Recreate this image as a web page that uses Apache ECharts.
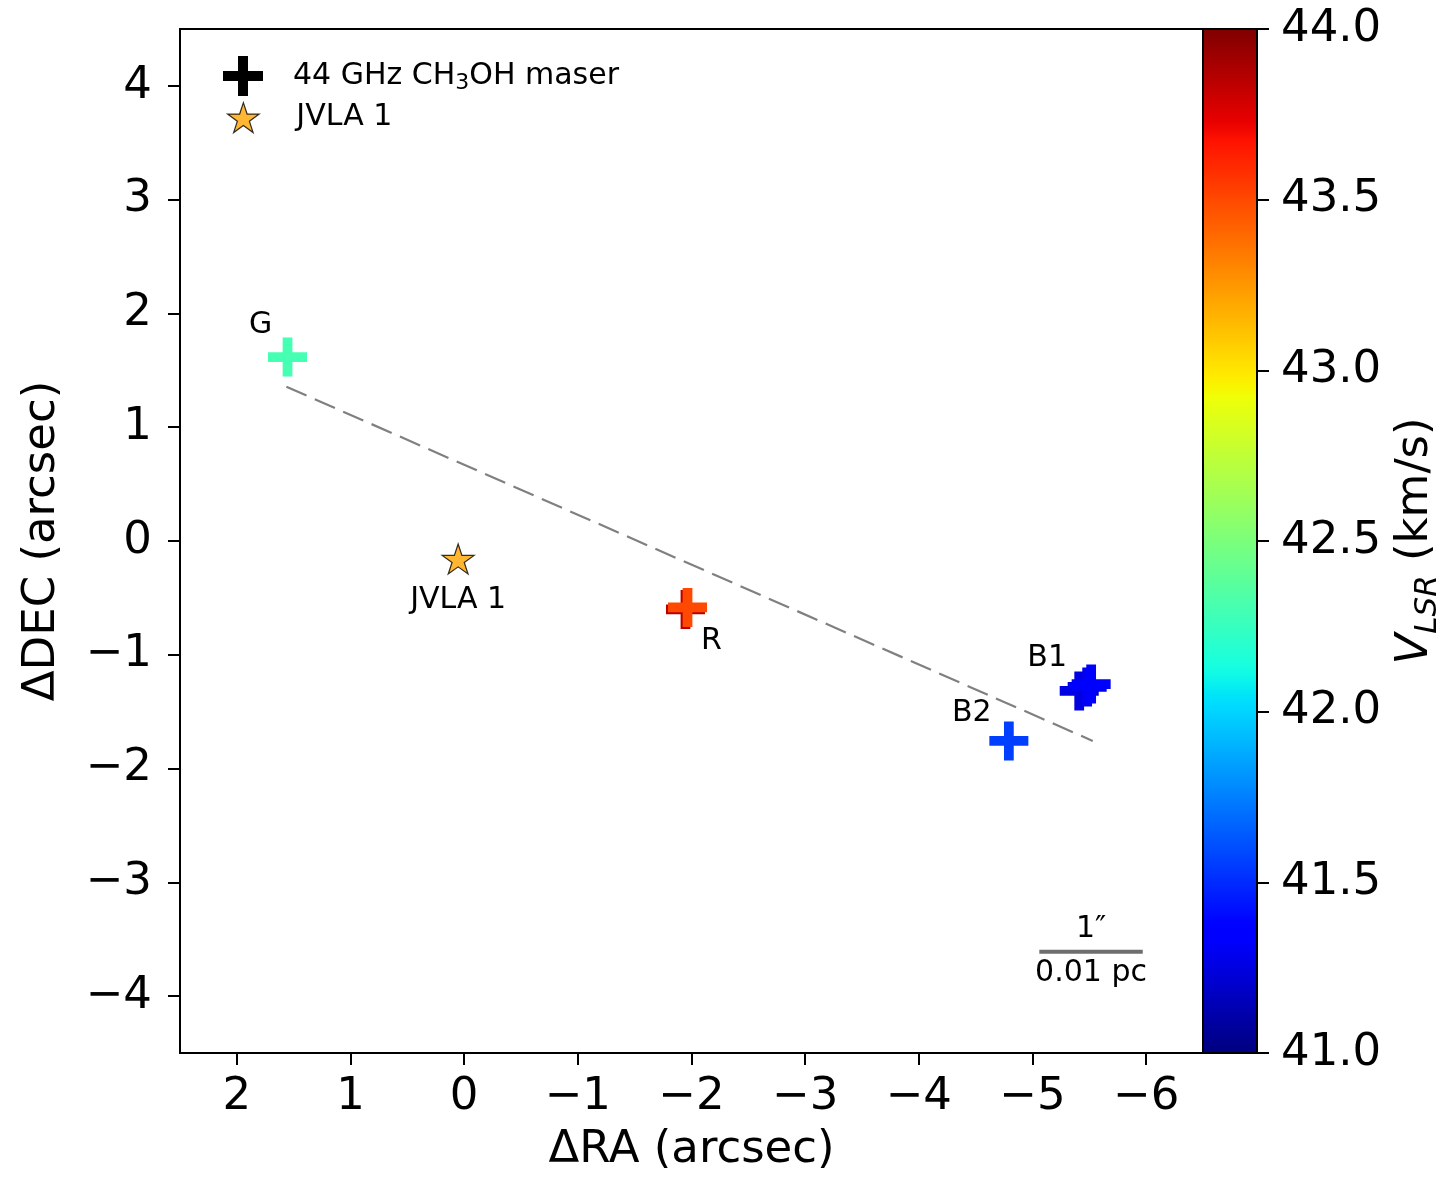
<!DOCTYPE html>
<html><head><meta charset="utf-8">
<script src="https://cdn.jsdelivr.net/npm/echarts@6/dist/echarts.min.js"></script>
<style>html,body{margin:0;padding:0;background:#fff}#c{width:1450px;height:1184px}</style>
</head><body><div id="c"></div>
<script>
// ---------- data ----------
const maserRA    = [-1.947, -1.965, 1.554, -4.792, -5.411, -5.481, -5.516];
const maserDEC   = [-0.602, -0.584, 1.617, -1.757, -1.318, -1.283, -1.257];
const maserVlsr  = [43.85, 43.50, 42.30, 41.56, 41.25, 41.30, 41.35];
const maserLabel = ['', 'R', 'G', 'B2', '', 'B1', ''];
const jvlaRA  = [0.053];
const jvlaDEC = [-0.158];
const jvlaLabel = ['JVLA 1'];
const fitLineRA  = [1.564, -5.53];
const fitLineDEC = [1.356, -1.757];
const scaleBarRA  = [-5.06, -5.97];
const scaleBarDEC = [-3.61, -3.61];
const scaleBarText = ['1\u2033', '0.01 pc'];
const xTicks  = [2, 1, 0, -1, -2, -3, -4, -5, -6];
const yTicks  = [-4, -3, -2, -1, 0, 1, 2, 3, 4];
const cbTicks = [41.0, 41.5, 42.0, 42.5, 43.0, 43.5, 44.0];

// ---------- styles ----------
const FONT = 'DejaVu Sans';
const labelOffsets = { G: [-27, -32], R: [24, 34], B1: [-40, -29], B2: [-37, -28], 'JVLA 1': [0, 41] };
const plusPath = 'path://M15,0H25V15H40V25H25V40H15V25H0V15H15Z';
const starPath = 'path://M0,-1L0.2245,-0.309L0.951,-0.309L0.363,0.118L0.588,0.809L0,0.382L-0.588,0.809L-0.363,0.118L-0.951,-0.309L-0.2245,-0.309Z';
const maserSeriesName = '44 GHz CH3OH maser';
const txt = (extra) => Object.assign({ show: true, fontSize: 30, color: '#000000', opacity: 1, fontWeight: 'normal',
  fontFamily: FONT, textBorderWidth: 0, textBorderColor: 'transparent', textShadowBlur: 0 }, extra);

function jet(t) {
  const seg = pts => {
    for (let i = 0; i < pts.length - 1; i++) {
      const [x0, y0] = pts[i], [x1, y1] = pts[i + 1];
      if (t <= x1) return y0 + (y1 - y0) * (t - x0) / (x1 - x0);
    }
    return pts[pts.length - 1][1];
  };
  const r = seg([[0,0],[0.35,0],[0.66,1],[0.89,1],[1,0.5]]);
  const g = seg([[0,0],[0.125,0],[0.375,1],[0.64,1],[0.91,0],[1,0]]);
  const b = seg([[0,0.5],[0.11,1],[0.34,1],[0.65,0],[1,0]]);
  const h = v => Math.round(v * 255).toString(16).padStart(2, '0');
  return '#' + h(r) + h(g) + h(b);
}
const jetColors = [];
for (let i = 0; i <= 100; i++) jetColors.push(jet(i / 100));

const minusFmt = v => v < 0 ? '\u2212' + Math.abs(v) : String(v);

const maserData = maserRA.map((x, i) => {
  const lab = maserLabel[i];
  return {
    value: [x, maserDEC[i], maserVlsr[i]],
    name: lab,
    label: lab ? txt({ position: 'inside', offset: labelOffsets[lab], formatter: lab }) : { show: false }
  };
});
const jvlaData = jvlaRA.map((x, i) => ({
  value: [x, jvlaDEC[i]],
  label: txt({ position: 'inside', offset: labelOffsets[jvlaLabel[i]], formatter: jvlaLabel[i] })
}));

const chart = echarts.init(document.getElementById('c'), null, { renderer: 'canvas' });
chart.setOption({
  backgroundColor: '#fff',
  animation: false,
  textStyle: { fontFamily: FONT, color: '#000' },
  grid: [
    { left: 180, top: 29, width: 1023, height: 1024, show: true, borderColor: '#000', borderWidth: 2, backgroundColor: 'transparent' },
    { left: 1203, top: 29, width: 54, height: 1024, show: true, z: 10, borderColor: '#000', borderWidth: 2, backgroundColor: 'transparent' }
  ],
  xAxis: [
    { gridIndex: 0, type: 'value', min: -6.5, max: 2.5, inverse: true, splitNumber: 9, position: 'bottom',
      axisLine: { show: false, onZero: false }, splitLine: { show: false },
      axisTick: { show: true, length: 12, lineStyle: { color: '#000', width: 2 }, customValues: xTicks },
      axisLabel: { fontSize: 45, color: '#000', margin: 22, formatter: minusFmt, customValues: xTicks, fontFamily: FONT },
      name: '\u0394RA (arcsec)', nameLocation: 'middle', nameGap: 75,
      nameTextStyle: { fontSize: 45, color: '#000', fontFamily: FONT } },
    { gridIndex: 1, type: 'value', show: false, min: 0, max: 1 }
  ],
  yAxis: [
    { gridIndex: 0, type: 'value', min: -4.5, max: 4.5, splitNumber: 9, position: 'left',
      axisLine: { show: false, onZero: false }, splitLine: { show: false },
      axisTick: { show: true, length: 12, lineStyle: { color: '#000', width: 2 }, customValues: yTicks },
      axisLabel: { fontSize: 45, color: '#000', margin: 28, formatter: minusFmt, customValues: yTicks, fontFamily: FONT },
      name: '\u0394DEC (arcsec)', nameLocation: 'middle', nameGap: 115, nameRotate: 90,
      nameTextStyle: { fontSize: 45, color: '#000', fontFamily: FONT } },
    { gridIndex: 1, type: 'value', position: 'right', min: 41, max: 44, interval: 0.5, z: 10,
      axisLine: { show: false, onZero: false }, splitLine: { show: false },
      axisTick: { show: true, length: 12, lineStyle: { color: '#000', width: 2 }, customValues: cbTicks },
      axisLabel: { fontSize: 45, color: '#000', margin: 24, formatter: v => v.toFixed(1), customValues: cbTicks,
                   showMinLabel: true, showMaxLabel: true, fontFamily: FONT },
      name: '{v|V}{s|LSR}{t| (km/s)}', nameLocation: 'middle', nameGap: 130, nameRotate: 90,
      nameTextStyle: { color: '#000', fontFamily: FONT,
        rich: {
          v: { fontSize: 45, fontStyle: 'italic', lineHeight: 56, color: '#000', fontFamily: FONT },
          s: { fontSize: 31, fontStyle: 'italic', lineHeight: 40, verticalAlign: 'bottom', color: '#000', fontFamily: FONT },
          t: { fontSize: 45, lineHeight: 56, color: '#000', fontFamily: FONT }
        } } }
  ],
  visualMap: [{
    type: 'continuous', min: 41, max: 44, dimension: 2, seriesIndex: 0,
    left: 1203, top: 29, itemWidth: 54, itemHeight: 1024, padding: 0,
    calculable: false, hoverLink: false, showLabel: false, text: null,
    inRange: { color: jetColors }
  }],
  legend: [
    { left: 218, top: 51, orient: 'vertical', itemWidth: 40, itemHeight: 40, selectedMode: false,
      data: [{ name: maserSeriesName, icon: plusPath, itemStyle: { color: '#000', borderWidth: 0 } }],
      formatter: () => '{g|}{t|44 GHz CH}{s|3}{t|OH maser}',
      textStyle: { rich: {
        g: { width: 25, lineHeight: 36 },
        t: { fontSize: 30, lineHeight: 36, color: '#000', fontFamily: FONT },
        s: { fontSize: 22, lineHeight: 26, verticalAlign: 'bottom', color: '#000', fontFamily: FONT } } } },
    { left: 222, top: 97, orient: 'vertical', itemWidth: 32, itemHeight: 30, selectedMode: false,
      data: [{ name: 'JVLA 1', icon: starPath, itemStyle: { color: '#FFA500', borderColor: '#000', borderWidth: 1.2 } }],
      formatter: n => '{g|}{t|' + n + '}',
      textStyle: { rich: { g: { width: 32, lineHeight: 36 }, t: { fontSize: 30, lineHeight: 36, color: '#000', fontFamily: FONT } } } }
  ],
  series: [
    { name: maserSeriesName, type: 'scatter', xAxisIndex: 0, yAxisIndex: 0, z: 5,
      symbol: plusPath, symbolSize: 39, itemStyle: { opacity: 1, borderWidth: 0 },
      data: maserData },
    { name: 'JVLA 1', type: 'scatter', xAxisIndex: 0, yAxisIndex: 0, z: 5,
      symbol: starPath, symbolSize: [32, 30],
      itemStyle: { color: '#FFA500', borderColor: '#000', borderWidth: 1.2 },
      data: jvlaData },
    { name: 'fit', type: 'line', xAxisIndex: 0, yAxisIndex: 0, z: 3, symbol: 'none', silent: true,
      lineStyle: { color: '#808080', width: 2.2, type: [22, 9] },
      data: fitLineRA.map((x, i) => [x, fitLineDEC[i]]) },
    { name: 'scalebar', type: 'line', xAxisIndex: 0, yAxisIndex: 0, z: 3, symbol: 'none', silent: true,
      lineStyle: { color: '#6e6e6e', width: 4 },
      data: scaleBarRA.map((x, i) => [x, scaleBarDEC[i]]) },
    { name: 'scaletext', type: 'scatter', xAxisIndex: 0, yAxisIndex: 0, z: 4, silent: true,
      symbol: 'circle', symbolSize: 1, itemStyle: { color: '#000', opacity: 0 },
      data: scaleBarText.map((t, i) => ({
        value: [(scaleBarRA[0] + scaleBarRA[1]) / 2, scaleBarDEC[0]],
        label: txt({ position: 'inside', offset: [0, i === 0 ? -23 : 21], formatter: t })
      })) }
  ]
});
</script></body></html>
